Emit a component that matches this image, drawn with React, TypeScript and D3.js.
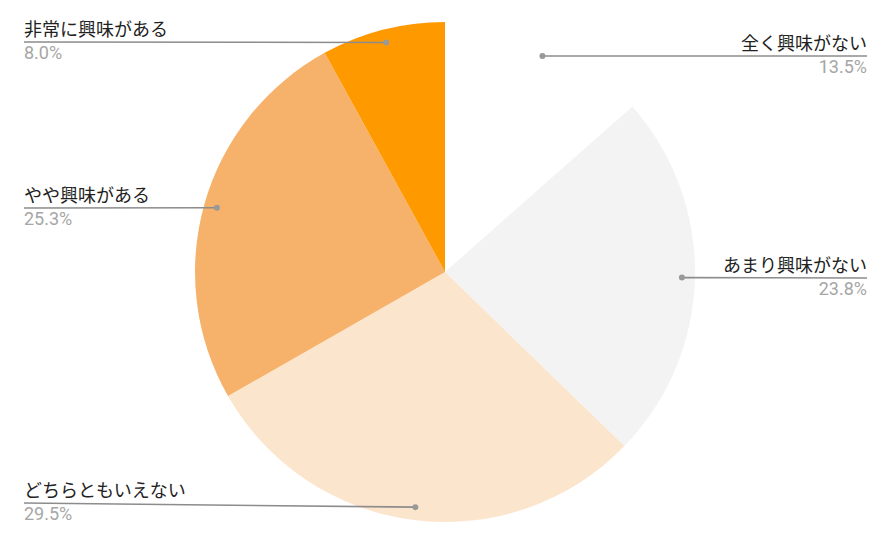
import React from "react";
import * as d3 from "d3";

const categories = ["全く興味がない", "あまり興味がない", "どちらともいえない", "やや興味がある", "非常に興味がある"];
const values = [13.5, 23.8, 29.5, 25.3, 8.0];
const colors = ["#ffffff", "#f3f3f3", "#fce5cd", "#f6b26b", "#ff9900"];

// label layout: side and y of the leader line at the label end
const labelSide = ["right", "right", "left", "left", "left"];
const labelLineY = [56, 278, 503, 208, 42];

const W = 891, H = 545;
const cx = 445, cy = 272, R = 250, dotR = 237;

export default function App() {
  const pie = d3.pie<number>().sort(null).value((d) => d)(values);
  const arc = d3.arc<d3.PieArcDatum<number>>().innerRadius(0).outerRadius(R);
  return (
    <svg width={W} height={H} style={{ position: "absolute", left: 0, top: 0, background: "#fff" }}
      fontFamily="Roboto, 'Noto Sans CJK JP', Arial, sans-serif">
      <g transform={`translate(${cx},${cy})`}>
        {pie.map((p, i) => (
          <path key={i} d={arc(p) || ""} fill={colors[i]} />
        ))}
      </g>
      {pie.map((p, i) => {
        const mid = (p.startAngle + p.endAngle) / 2;
        const dx = cx + Math.sin(mid) * dotR;
        const dy = cy - Math.cos(mid) * dotR;
        const right = labelSide[i] === "right";
        const lx = right ? 867 : 24;
        const ly = labelLineY[i];
        return (
          <g key={i}>
            <line x1={lx} y1={ly} x2={dx} y2={dy} stroke="#8c8c8c" strokeWidth={1.6} />
            <circle cx={dx} cy={dy} r={3} fill="#999" />
            <text x={lx} y={ly - 6} fontSize={18} fill="#222" textAnchor={right ? "end" : "start"}
              fontFamily="'Noto Sans CJK JP', sans-serif">{categories[i]}</text>
            <text x={lx} y={ly + 17} fontSize={18} fill="#a6a6a6" textAnchor={right ? "end" : "start"}
              fontFamily="Roboto, Arial, sans-serif">{values[i].toFixed(1) + "%"}</text>
          </g>
        );
      })}
    </svg>
  );
}
